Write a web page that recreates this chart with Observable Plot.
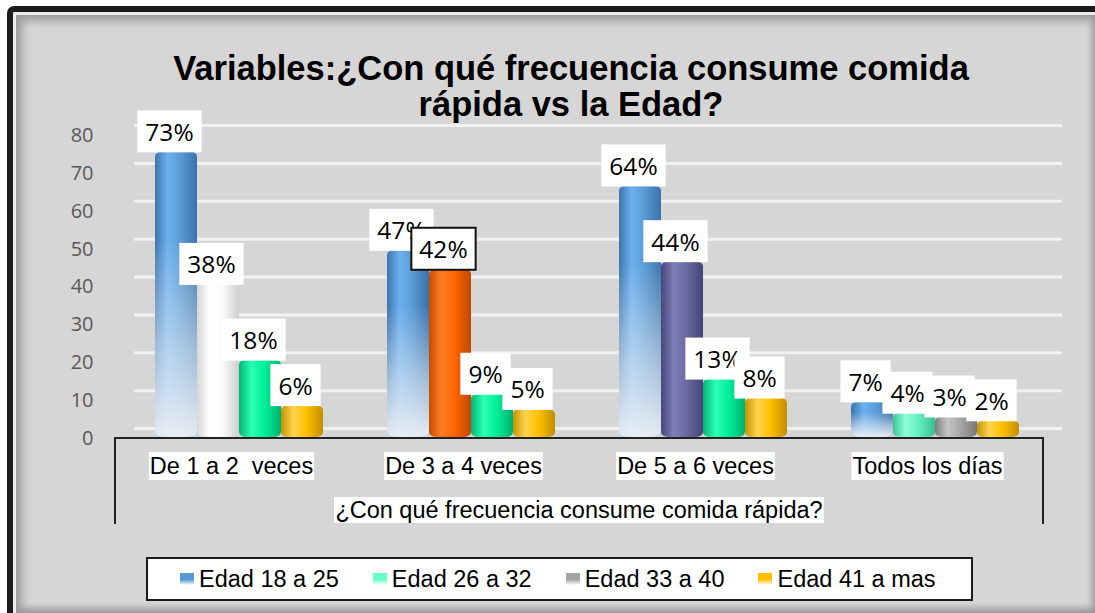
<!DOCTYPE html>
<html>
<head>
<meta charset="utf-8">
<script src="https://cdn.jsdelivr.net/npm/d3@7"></script>
<script src="https://cdn.jsdelivr.net/npm/@observablehq/plot@0.6"></script>
<style>
html, body { margin: 0; padding: 0; background: #fff; }
#root { position: relative; width: 1095px; height: 613px; overflow: hidden; font-family: "Liberation Sans", Arial, sans-serif; }
#frame { position: absolute; left: 7px; top: 6px; width: 1082px; height: 601px;
  border-left: 6px solid #1b1b1b; border-top: 6px solid #1b1b1b; border-top-left-radius: 7px;
  background: #d6d6d6;
  box-shadow: inset 3px 3px 0 #ececec, inset 12px 12px 9px -3px #9c9c9c, inset -6px -8px 6px -3px #9a9a9a; }
#axisbox { position: absolute; left: 114px; top: 437px; width: 930px; height: 87px; box-sizing: border-box;
  border-left: 2px solid #222; border-right: 2px solid #222; border-top: 2px solid #222; }
#chart { position: absolute; left: 0; top: 0; }
#title { position: absolute; left: 71px; top: 50px; width: 1000px; text-align: center;
  font: bold 34.5px/36px "Liberation Sans", Arial, sans-serif; color: #000; }
#xtitle { position: absolute; left: 114px; top: 497px; width: 930px; text-align: center; }
#xtitle span { background: #fff; font: 23.5px/27px "Liberation Sans", Arial, sans-serif; color: #000; padding: 0 1px; }
#legend { position: absolute; left: 146px; top: 557px; width: 827px; height: 44px; box-sizing: border-box;
  border: 2px solid #1a1a1a; background: #fff; display: flex; align-items: center; padding-left: 32px; gap: 34px; }
.li { display: flex; align-items: center; font: 23.5px/26px "Liberation Sans", Arial, sans-serif; color: #000; }
.sw { width: 14px; height: 12px; margin-right: 5px; }
</style>
</head>
<body>
<div id="root">
  <div id="frame"></div>
  <div id="axisbox"></div>
  <div id="chart"></div>
  <div id="title">Variables:¿Con qué frecuencia consume comida<br>rápida vs la Edad?</div>
  <div id="xtitle"><span>¿Con qué frecuencia consume comida rápida?</span></div>
  <div id="legend"></div>
</div>
<script>
// ---- data ----
const categories = ["De 1 a 2  veces", "De 3 a 4 veces", "De 5 a 6 veces", "Todos los días"];
const seriesNames = ["Edad 18 a 25", "Edad 26 a 32", "Edad 33 a 40", "Edad 41 a mas"];
const edad18a25 = [73, 47, 64, 7];
const edad26a32 = [38, 42, 44, 4];
const edad33a40 = [18, 9, 13, 3];
const edad41aMas = [6, 5, 8, 2];
const yTicks = [0, 10, 20, 30, 40, 50, 60, 70, 80];
const xTitle = "¿Con qué frecuencia consume comida rápida?";

// ---- styles (per-point colour overrides, as in the source chart) ----
const seriesColor = ["blue", "aqua", "gray", "gold"];
const pointColor = [
  ["blue", "white", "green", "gold"],
  ["blue", "orange", "green", "gold"],
  ["blue", "purple", "green", "gold"],
  ["blue", "aqua", "gray", "gold"]
];
const outlinedLabel = [[1, 1]]; // [category index, series index]
const legendHex = { blue: "#5b9bd5", aqua: "#66ffcc", gray: "#a5a5a5", gold: "#ffc000" };
const grads = {
  blue:   ["#3b74ad", "#6cb0f0", "#5b9bd5", "#3a72aa"],
  white:  ["#d6d6d6", "#ffffff", "#fbfbfb", "#cfcfcf"],
  green:  ["#00b573", "#2bffb4", "#00f09a", "#00b06f"],
  orange: ["#c84c00", "#ff7d24", "#ff6600", "#c04800"],
  purple: ["#47477a", "#7e7eba", "#6a6aa3", "#444476"],
  aqua:   ["#3cc497", "#8dffd8", "#66f0c0", "#3abd92"],
  gray:   ["#7c7c7c", "#c6c6c6", "#a6a6a6", "#777777"],
  gold:   ["#c49300", "#ffd54f", "#ffc000", "#c08f00"]
};

const allValues = [edad18a25, edad26a32, edad33a40, edad41aMas];
const rows = [];
categories.forEach((cat, i) => {
  seriesNames.forEach((s, j) => {
    rows.push({ cat, series: s, v: allValues[j][i], color: pointColor[i][j],
      outlined: outlinedLabel.some(([a, b]) => a === i && b === j) });
  });
});

const barOpts = { fx: "cat", x: "series", y: "v", dx: 8, insetBottom: -9, rx: 7, ry: 5 };

const chart = Plot.plot({
  width: 1095,
  height: 540,
  marginTop: 125,
  marginBottom: 112,
  marginLeft: 114,
  marginRight: 51,
  style: { background: "transparent", overflow: "visible" },
  fx: { domain: categories, padding: 0, axis: null, label: null },
  x: { domain: seriesNames, paddingInner: 0, paddingOuter: 0.73, axis: null },
  y: { domain: [0, 80], axis: null },
  color: { type: "identity" },
  marks: [
    Plot.ruleY(yTicks, { stroke: "#f1f1f1", strokeWidth: 3, dx: 19 }),
    Plot.barY(rows, { ...barOpts, fill: d => `url(#cyl-${d.color})` }),
    Plot.barY(rows.filter(d => d.color === "blue"), { ...barOpts, fill: "url(#fade)" }),
    Plot.axisY(yTicks, { tickSize: 0, tickPadding: 22, dy: 10, fontSize: 20, color: "#595959",
      fontFamily: "Open Sans", label: null }),
    Plot.text(categories, { fx: d => d, text: d => d, frameAnchor: "bottom", lineAnchor: "middle", dy: 38,
      fontSize: 23.5, fontFamily: "Liberation Sans", fill: "#000", className: "catlab" }),
    Plot.text(rows.filter(d => !d.outlined), { fx: "cat", x: "series", y: "v", text: d => d.v + "%",
      dx: 1, dy: -19, fontSize: 24.5, fontFamily: "Open Sans", fill: "#000", className: "vlabel" }),
    Plot.text(rows.filter(d => d.outlined), { fx: "cat", x: "series", y: "v", text: d => d.v + "%",
      dx: 1, dy: -19, fontSize: 24.5, fontFamily: "Open Sans", fill: "#000", className: "vlabelb" })
  ]
});

document.getElementById("chart").append(chart);

// gradients
const NS = "http://www.w3.org/2000/svg";
const defs = document.createElementNS(NS, "defs");
for (const [name, c] of Object.entries(grads)) {
  const g = document.createElementNS(NS, "linearGradient");
  g.setAttribute("id", "cyl-" + name);
  g.setAttribute("x1", "0"); g.setAttribute("x2", "1"); g.setAttribute("y1", "0"); g.setAttribute("y2", "0");
  [[0, c[0]], [0.3, c[1]], [0.6, c[2]], [1, c[3]]].forEach(([o, col]) => {
    const s = document.createElementNS(NS, "stop");
    s.setAttribute("offset", o); s.setAttribute("stop-color", col);
    g.append(s);
  });
  defs.append(g);
}
{
  const g = document.createElementNS(NS, "linearGradient");
  g.setAttribute("id", "fade");
  g.setAttribute("x1", "0"); g.setAttribute("x2", "0"); g.setAttribute("y1", "0"); g.setAttribute("y2", "1");
  [[0.3, "#e6ecf3", 0], [0.7, "#e6ecf3", 0.6], [1, "#eef1f5", 0.95]].forEach(([o, col, op]) => {
    const s = document.createElementNS(NS, "stop");
    s.setAttribute("offset", o); s.setAttribute("stop-color", col); s.setAttribute("stop-opacity", op);
    g.append(s);
  });
  defs.append(g);
}
chart.prepend(defs);

// white boxes behind data labels and category labels
function boxTexts(sel, padX, padY, stroke) {
  chart.querySelectorAll(sel).forEach(t => {
    const b = t.getBBox();
    const r = document.createElementNS(NS, "rect");
    r.setAttribute("x", b.x - padX);
    r.setAttribute("y", b.y - padY);
    r.setAttribute("width", b.width + 2 * padX);
    r.setAttribute("height", b.height + 2 * padY);
    r.setAttribute("fill", "#fff");
    if (stroke) { r.setAttribute("stroke", stroke); r.setAttribute("stroke-width", 2); }
    const tr = t.getAttribute("transform");
    if (tr) r.setAttribute("transform", tr);
    t.parentNode.insertBefore(r, t);
  });
}
boxTexts("g.vlabel text", 8, 4.5);
boxTexts("g.vlabelb text", 8, 4.5, "#111");
boxTexts("g.catlab text", 1, 1);

// legend
const legend = document.getElementById("legend");
seriesNames.forEach((s, j) => {
  const hex = legendHex[seriesColor[j]];
  const item = document.createElement("div");
  item.className = "li";
  const sw = document.createElement("span");
  sw.className = "sw";
  sw.style.background = `linear-gradient(to bottom, ${hex} 0%, ${hex} 55%, #ffffff 100%)`;
  item.append(sw, document.createTextNode(s));
  legend.append(item);
});
</script>
</body>
</html>
